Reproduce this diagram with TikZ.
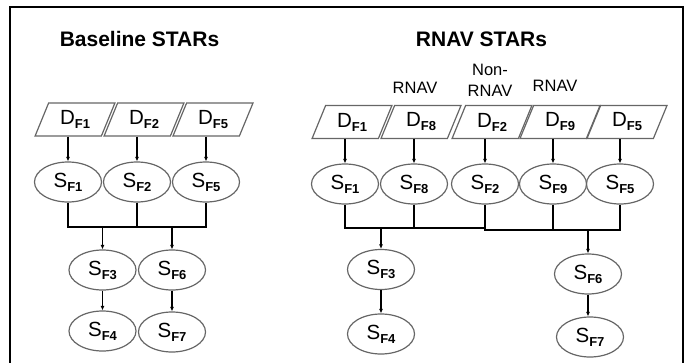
\documentclass[tikz,border=0pt]{standalone}
\usepackage{fontspec}
\setmainfont{Liberation Sans}
\usetikzlibrary{shapes.geometric,arrows.meta}
\newcommand\sublab[2]{{\fontsize{20.5}{20}\selectfont #1}\raisebox{-4pt}{\fontsize{13}{13}\selectfont\bfseries #2}}
\tikzset{
  dbox/.style={trapezium, trapezium left angle=67, trapezium right angle=113, trapezium stretches=true,
    minimum width=80pt, minimum height=33pt, inner sep=0pt, draw=black!60, line width=1.2pt},
  sell/.style={ellipse, minimum width=67pt, minimum height=40pt, inner sep=0pt, draw=black!60, line width=1.2pt},
  line/.style={draw=black, line width=1.2pt},
  arr/.style={line, -{Latex[length=4.5pt,width=4pt]}},
  ttl/.style={font=\fontsize{21}{22}\selectfont\bfseries},
  lbl/.style={font=\fontsize{16.5}{21}\selectfont, align=center}
}
\begin{document}
\begin{tikzpicture}[x=1pt,y=-1pt]
\useasboundingbox (0,0) rectangle (691,362);
\draw[line width=2pt] (9.5,363) -- (9.5,7) -- (683,7) -- (683,363);

% Left panel
\node[ttl] (lt) at (139.5,39) {Baseline STARs};
\node[dbox] (lD1) at (75,119.5) {\sublab{D}{F1}};
\node[dbox] (lD2) at (144,119.5) {\sublab{D}{F2}};
\node[dbox] (lD5) at (213,119.5) {\sublab{D}{F5}};
\node[sell] (lS1) at (68,182) {\sublab{S}{F1}};
\node[sell] (lS2) at (137,182) {\sublab{S}{F2}};
\node[sell] (lS5) at (206,182) {\sublab{S}{F5}};
\node[sell] (lS3) at (102.5,270) {\sublab{S}{F3}};
\node[sell] (lS6) at (172,270) {\sublab{S}{F6}};
\node[sell] (lS4) at (102.5,331) {\sublab{S}{F4}};
\node[sell] (lS7) at (172,332) {\sublab{S}{F7}};
\coordinate (lbus) at (0,227);
\draw[arr] (lD1.south -| lS1.north) -- (lS1.north);
\draw[arr] (lD2.south -| lS2.north) -- (lS2.north);
\draw[arr] (lD5.south -| lS5.north) -- (lS5.north);
\draw[line] (lS1.south) -- (lS1.south |- lbus) -- (lS5.south |- lbus) -- (lS5.south);
\draw[line] (lS2.south) -- (lS2.south |- lbus);
\draw[arr] (lS3.north |- lbus) -- (lS3.north);
\draw[arr] (lS6.north |- lbus) -- (lS6.north);
\draw[arr] (lS3.south) -- (lS4.north);
\draw[arr] (lS6.south) -- (lS7.north);

% Right panel
\node[ttl] (rt) at (481.5,39) {RNAV STARs};
\node[lbl] (l8) at (415,88) {RNAV};
\node[lbl] (l2) at (490,80) {Non-\\RNAV};
\node[lbl] (l9) at (555,86) {RNAV};
\node[dbox] (rD1) at (352,122) {\sublab{D}{F1}};
\node[dbox] (rD8) at (421,122) {\sublab{D}{F8}};
\node[dbox] (rD2) at (492,122) {\sublab{D}{F2}};
\node[dbox] (rD9) at (560,122) {\sublab{D}{F9}};
\node[dbox] (rD5) at (627,122) {\sublab{D}{F5}};
\node[sell] (rS1) at (345,184) {\sublab{S}{F1}};
\node[sell] (rS8) at (414,184) {\sublab{S}{F8}};
\node[sell] (rS2) at (485,184) {\sublab{S}{F2}};
\node[sell] (rS9) at (553,184) {\sublab{S}{F9}};
\node[sell] (rS5) at (620,184) {\sublab{S}{F5}};
\node[sell] (rS3) at (381,269.5) {\sublab{S}{F3}};
\node[sell] (rS6) at (588,274) {\sublab{S}{F6}};
\node[sell] (rS4) at (381,334) {\sublab{S}{F4}};
\node[sell] (rS7) at (590,337) {\sublab{S}{F7}};
\coordinate (rbusA) at (0,228);
\coordinate (rbusB) at (0,230);
\draw[arr] (rD1.south -| rS1.north) -- (rS1.north);
\draw[arr] (rD8.south -| rS8.north) -- (rS8.north);
\draw[arr] (rD2.south -| rS2.north) -- (rS2.north);
\draw[arr] (rD9.south -| rS9.north) -- (rS9.north);
\draw[arr] (rD5.south -| rS5.north) -- (rS5.north);
\draw[line] (rS1.south) -- (rS1.south |- rbusA) -- (rS2.south |- rbusA);
\draw[line] (rS8.south) -- (rS8.south |- rbusA);
\draw[line] (rS2.south) -- (rS2.south |- rbusB) -- (rS5.south |- rbusB) -- (rS5.south);
\draw[line] (rS9.south) -- (rS9.south |- rbusB);
\draw[arr] (rS3.north |- rbusA) -- (rS3.north);
\draw[arr] (rS6.north |- rbusB) -- (rS6.north);
\draw[arr] (rS3.south) -- (rS4.north);
\draw[arr] (rS6.south) -- (rS6.south |- rS7.north);
\end{tikzpicture}
\end{document}
